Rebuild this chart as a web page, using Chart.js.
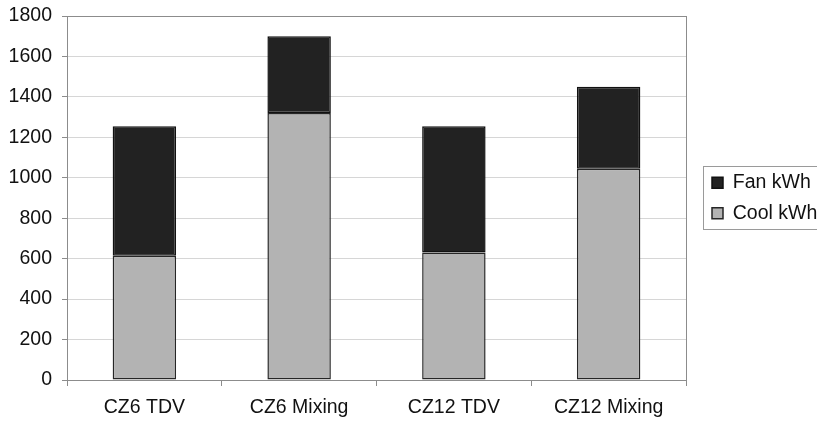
<!DOCTYPE html>
<html>
<head>
<meta charset="utf-8">
<script src="https://cdn.jsdelivr.net/npm/chart.js@4"></script>
<style>
  html, body { margin: 0; padding: 0; background: #ffffff; }
  #c { display: block; }
</style>
</head>
<body>
<canvas id="c" width="817" height="423"></canvas>
<script>
// Annual energy per case, stacked: cooling at the bottom, fan on top
const categories = ['CZ6 TDV', 'CZ6 Mixing', 'CZ12 TDV', 'CZ12 Mixing'];
const coolKWh = [615, 1320, 630, 1045];
const fanKWh = [640, 380, 625, 405];
const yTicks = [0, 200, 400, 600, 800, 1000, 1200, 1400, 1600, 1800];

const FONT = { family: "'Liberation Sans', Arial, sans-serif", size: 19.5 };
const FRAME = '#8c8c8c';

// Legend sizing, plot frame and legend border
const frameAndLegend = {
  id: 'frameAndLegend',
  beforeInit(chart) {
    const lg = chart.legend;
    const baseFit = lg.fit;
    lg.fit = function () { baseFit.call(this); this.width = 131; };
  },
  afterLayout(chart) {
    chart.legend.left = chart.chartArea.right + 15;
  },
  afterDraw(chart) {
    const { ctx, chartArea: a, legend } = chart;
    ctx.save();
    ctx.strokeStyle = FRAME;
    ctx.lineWidth = 1;
    ctx.strokeRect(Math.round(a.left) + 0.5, Math.round(a.top) + 0.5,
                   Math.round(a.right - a.left), Math.round(a.bottom - a.top));
    const mid = (legend.top + legend.bottom) / 2;
    ctx.strokeStyle = '#9a9a9a';
    ctx.strokeRect(Math.round(legend.left + 2) + 0.5, Math.round(mid - 32) + 0.5, 140, 63);
    ctx.restore();
  }
};

new Chart(document.getElementById('c'), {
  type: 'bar',
  data: {
    labels: categories,
    datasets: [
      {
        label: 'Cool kWh',
        data: coolKWh,
        backgroundColor: '#b3b3b3',
        borderColor: '#262626',
        borderWidth: 1.5,
        borderSkipped: false
      },
      {
        label: 'Fan kWh',
        data: fanKWh,
        backgroundColor: '#222222',
        borderColor: '#111111',
        borderWidth: 1.5,
        borderSkipped: false
      }
    ]
  },
  options: {
    responsive: false,
    animation: false,
    devicePixelRatio: 1,
    datasets: { bar: { categoryPercentage: 1.0, barPercentage: 0.41 } },
    layout: { padding: { top: 16, left: 0, right: 0, bottom: 0 } },
    plugins: {
      legend: {
        position: 'right',
        fullSize: false,
        reverse: true,
        labels: {
          font: FONT,
          color: '#111111',
          boxWidth: 11,
          boxHeight: 11,
          padding: 11
        }
      },
      tooltip: { enabled: false }
    },
    scales: {
      x: {
        stacked: true,
        offset: true,
        afterFit(s) { s.height = 43; s.paddingLeft = 0; s.paddingRight = 0; },
        grid: {
          offset: true,
          drawOnChartArea: false,
          drawTicks: true,
          tickLength: 6,
          tickColor: FRAME
        },
        border: { color: FRAME },
        ticks: { font: FONT, color: '#111111', padding: 10, maxRotation: 0 }
      },
      y: {
        stacked: true,
        min: 0,
        max: 1800,
        afterFit(s) { s.width = 67; s.paddingTop = 0; s.paddingBottom = 0; },
        afterBuildTicks(s) { s.ticks = yTicks.map(v => ({ value: v })); },
        grid: {
          color: '#d6d6d6',
          lineWidth: 1,
          drawTicks: true,
          tickLength: 5,
          tickColor: FRAME
        },
        border: { color: FRAME },
        ticks: {
          font: FONT,
          color: '#111111',
          padding: 10,
          callback: v => String(v)
        }
      }
    }
  },
  plugins: [frameAndLegend]
});
</script>
</body>
</html>
